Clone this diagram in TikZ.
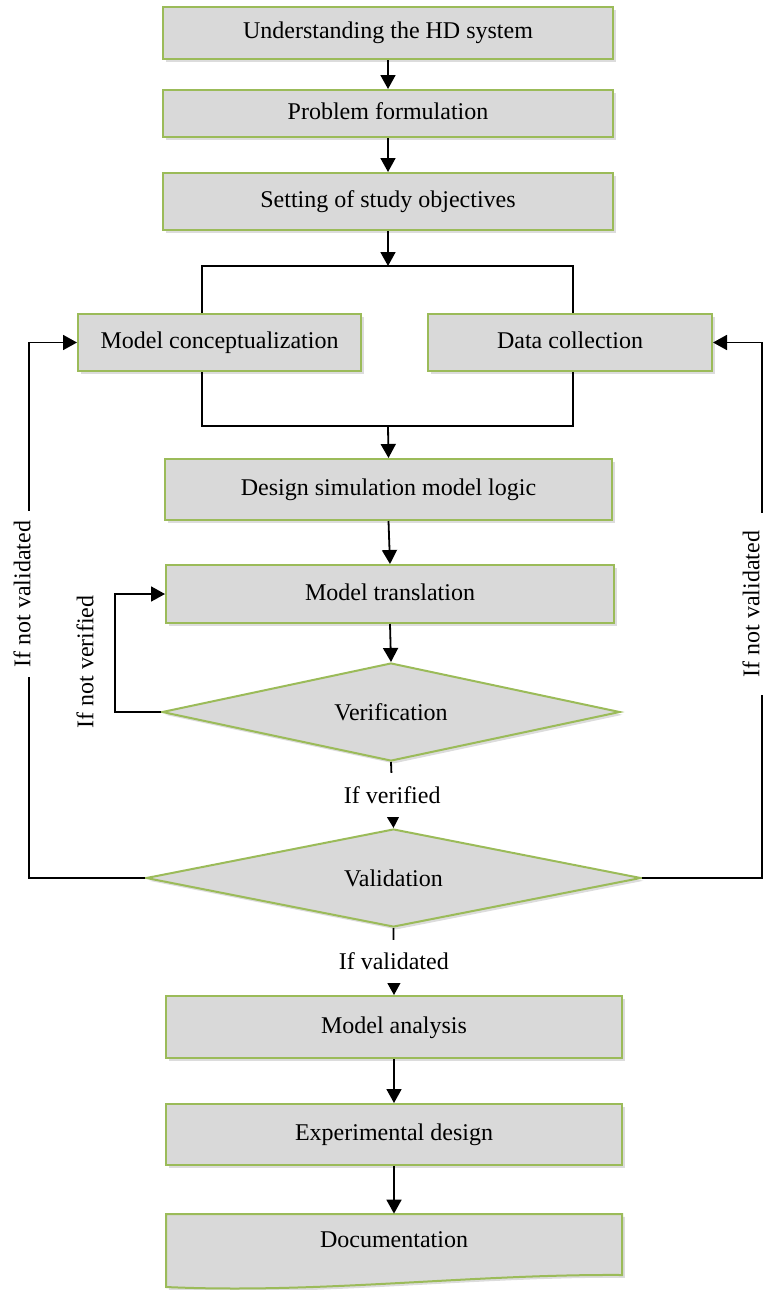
\documentclass[tikz,border=0pt]{standalone}
\usepackage{fontspec}
\setmainfont{Liberation Serif}
\usetikzlibrary{shapes.geometric,arrows.meta,shadows}
\definecolor{boxfill}{HTML}{D9D9D9}
\definecolor{boxline}{HTML}{9BBB59}

\begin{document}
\begin{tikzpicture}[x=0.5pt,y=-0.5pt,
  font=\fontsize{12pt}{14pt}\selectfont,
  boxshadow/.style={drop shadow={opacity=0.28,shadow xshift=1.4pt,shadow yshift=-1.4pt}},
  stepbox/.style={rectangle, draw=boxline, line width=1pt, fill=boxfill, boxshadow,
    minimum width=225pt, inner sep=0pt, text height=8.5pt, text depth=2.5pt},
  decision/.style={diamond, aspect=4.7, draw=boxline, line width=1pt, fill=boxfill, boxshadow,
    inner sep=0pt},
  flow/.style={-{Triangle[length=7pt,width=7.5pt]}, line width=0.9pt},
  link/.style={line width=0.9pt},
  cut/.style={fill=white, inner xsep=3pt, inner ysep=6.5pt}
]

\useasboundingbox (0,0) rectangle (765,1290);

%% Top of the chain
\node [stepbox, minimum height=26pt] (hd) at (388,33) {Understanding the HD system};
\node [stepbox, minimum height=23.5pt] (prob) at (388,113.5) {Problem formulation};
\node [stepbox, minimum height=28.5pt] (obj) at (388,201.5) {Setting of study objectives};
\draw [flow] (hd.south) -- (prob.north);
\draw [flow] (prob.south) -- (obj.north);

%% Split into two parallel steps
\node [stepbox, minimum width=141.5pt, minimum height=28.5pt] (concept) at (219.5,342.5) {Model conceptualization};
\node [stepbox, minimum width=142pt, minimum height=28.5pt] (data) at (570,342.5) {Data collection};
\coordinate (splitM) at (388,266);
\coordinate (splitL) at (202,266);
\coordinate (splitR) at (573,266);
\draw [flow] (obj.south) -- (splitM);
\draw [link] (splitL |- concept.north) -- (splitL) -- (splitR) -- (splitR |- data.north);

%% Join again
\node [stepbox, minimum width=223.5pt, minimum height=30.5pt] (design) at (388.5,489.5) {Design simulation model logic};
\coordinate (joinM) at (388,426);
\coordinate (joinL) at (202,426);
\coordinate (joinR) at (573,426);
\draw [link] (splitL |- concept.south) -- (joinL) -- (joinR) -- (splitR |- data.south);
\draw [flow] (joinM) -- (design.north);

%% Translation and verification
\node [stepbox, minimum width=224pt, minimum height=29pt] (trans) at (390,594) {Model translation};
\node [decision, minimum width=229pt, minimum height=49pt] (verif) at (391,712) {Verification};
\draw [flow] (design.south) -- (trans.north);
\draw [flow] (trans.south) -- (verif.north);
\draw [flow] (verif.west) -- ++(-46,0) |- (trans.west);
\node [rotate=90] (notver) at (85,662) {If not verified};

%% Validation
\node [decision, minimum width=247.5pt, minimum height=49pt] (valid) at (393.5,878) {Validation};
\draw [flow] (verif.south) -- node [cut] (yesver) {If verified} (valid.north);
\draw [flow] (valid.west) -- ++(-116,0) |- (concept.west);
\draw [flow] (valid.east) -- ++(120,0) |- (data.east);
\node [cut, rotate=90, inner xsep=5pt, inner ysep=3pt] (notvalL) at (22,594) {If not validated};
\node [cut, rotate=90, inner xsep=9pt, inner ysep=2pt] (notvalR) at (751,604) {If not validated};

%% Bottom of the chain
\node [stepbox, minimum width=228pt, minimum height=31pt] (analysis) at (394,1027) {Model analysis};
\node [stepbox, minimum width=228pt, minimum height=30.5pt] (exper) at (394,1134.5) {Experimental design};
\draw [flow] (valid.south) -- node [cut] (yesval) {If validated} (analysis.north);
\draw [flow] (analysis.south) -- (exper.north);

%% Document shape
\draw [draw=boxline, line width=1pt, fill=boxfill, boxshadow]
  (166,1214) -- (622,1214) -- (622,1275) .. controls (470,1274) and (320,1294) .. (166,1287) -- cycle;
\node [minimum width=228pt, minimum height=26pt] (doc) at (394,1240) {Documentation};
\draw [flow] (exper.south) -- (doc.north);

\end{tikzpicture}
\end{document}
